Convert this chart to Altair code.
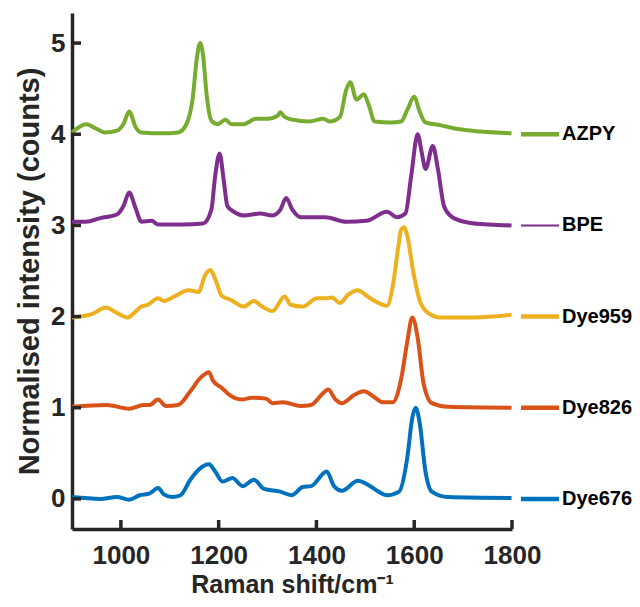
import altair as alt
import pandas as pd

# ---- data ----
series_names = ["AZPY", "BPE", "Dye959", "Dye826", "Dye676"]
series_colors = ["#77AC30", "#7E2F8E", "#EDB120", "#D95319", "#0072BD"]
legend_base = [4, 3, 2, 1, 0]
legend_width = [4.5, 2, 4.5, 4.5, 4.5]

azpy_x = [900, 929, 950, 967, 992, 1005, 1017, 1030, 1042, 1084, 1117, 1134, 1147, 1155, 1162,
          1168, 1176, 1185, 1197, 1214, 1226, 1251, 1276, 1301, 1320, 1326, 1335, 1351, 1385, 1414,
          1427, 1448, 1461, 1469, 1482, 1497, 1507, 1519, 1552, 1573, 1586, 1600, 1611, 1623, 1653,
          1686, 1736, 1799]
azpy_y = [4.02, 4.11, 4.06, 4.02, 4.04, 4.11, 4.25, 4.08, 4.02, 4.01, 4.02, 4.11, 4.40, 4.82, 5.00,
          4.87, 4.40, 4.15, 4.11, 4.16, 4.11, 4.11, 4.17, 4.17, 4.20, 4.24, 4.19, 4.16, 4.14, 4.17,
          4.14, 4.19, 4.49, 4.57, 4.38, 4.44, 4.32, 4.14, 4.13, 4.14, 4.27, 4.41, 4.25, 4.13, 4.10,
          4.06, 4.03, 4.01]

bpe_x = [900, 929, 958, 992, 1005, 1017, 1030, 1042, 1063, 1076, 1126, 1168, 1185, 1193, 1202,
         1210, 1218, 1231, 1251, 1285, 1310, 1326, 1338, 1351, 1368, 1418, 1461, 1502, 1544, 1565,
         1582, 1594, 1607, 1615, 1623, 1638, 1649, 1661, 1678, 1712, 1753, 1799]
bpe_y = [3.04, 3.04, 3.08, 3.12, 3.21, 3.36, 3.19, 3.04, 3.05, 3.01, 3.01, 3.02, 3.17, 3.55, 3.79,
         3.51, 3.21, 3.15, 3.11, 3.13, 3.11, 3.17, 3.30, 3.17, 3.09, 3.09, 3.04, 3.05, 3.15, 3.09,
         3.13, 3.55, 4.00, 3.81, 3.62, 3.87, 3.60, 3.21, 3.09, 3.03, 3.01, 3.00]

dye959_x = [900, 942, 969, 992, 1015, 1025, 1042, 1055, 1076, 1088, 1109, 1138, 1159, 1172, 1183,
            1193, 1206, 1226, 1251, 1272, 1289, 1310, 1335, 1347, 1372, 1401, 1418, 1431, 1448, 1465,
            1485, 1502, 1523, 1544, 1556, 1567, 1573, 1579, 1586, 1598, 1611, 1628, 1653, 1712, 1799]
dye959_y = [1.99, 2.03, 2.10, 2.04, 1.99, 2.03, 2.11, 2.13, 2.20, 2.17, 2.22, 2.29, 2.27, 2.45, 2.51,
            2.41, 2.23, 2.18, 2.11, 2.17, 2.11, 2.06, 2.22, 2.13, 2.11, 2.20, 2.20, 2.21, 2.15, 2.24,
            2.29, 2.23, 2.16, 2.12, 2.33, 2.75, 2.95, 2.98, 2.88, 2.49, 2.18, 2.04, 1.99, 1.99, 2.02]

dye826_x = [900, 971, 1017, 1046, 1059, 1076, 1092, 1117, 1142, 1163, 1180, 1188, 1206, 1222, 1247,
            1268, 1297, 1310, 1331, 1368, 1389, 1410, 1424, 1439, 1452, 1477, 1497, 1515, 1536, 1556,
            1573, 1586, 1596, 1607, 1619, 1636, 1669, 1799]
dye826_y = [1.01, 1.03, 0.99, 1.03, 1.03, 1.09, 1.02, 1.03, 1.18, 1.33, 1.39, 1.30, 1.22, 1.14, 1.09,
            1.11, 1.10, 1.05, 1.06, 1.02, 1.03, 1.14, 1.20, 1.09, 1.05, 1.14, 1.18, 1.13, 1.06, 1.06,
            1.31, 1.73, 1.99, 1.77, 1.27, 1.05, 1.01, 1.00]

dye676_x = [900, 958, 992, 1017, 1038, 1059, 1076, 1088, 1105, 1122, 1142, 1159, 1180, 1193, 1208,
            1228, 1249, 1272, 1293, 1326, 1349, 1372, 1389, 1421, 1436, 1452, 1485, 1507, 1527, 1544,
            1569, 1586, 1596, 1603, 1611, 1623, 1636, 1669, 1799]
dye676_y = [0.02, 0.00, 0.02, -0.01, 0.04, 0.06, 0.12, 0.05, 0.02, 0.04, 0.21, 0.32, 0.38, 0.30, 0.19,
            0.23, 0.14, 0.21, 0.11, 0.08, 0.04, 0.13, 0.14, 0.30, 0.14, 0.09, 0.20, 0.15, 0.08, 0.04,
            0.08, 0.46, 0.89, 1.00, 0.84, 0.30, 0.08, 0.02, 0.01]

x_ticks = [1000, 1200, 1400, 1600, 1800]
y_ticks = [0, 1, 2, 3, 4, 5]

# ---- build tables ----
all_x = [azpy_x, bpe_x, dye959_x, dye826_x, dye676_x]
all_y = [azpy_y, bpe_y, dye959_y, dye826_y, dye676_y]
rows = []
for name, xs, ys in zip(series_names, all_x, all_y):
    for xv, yv in zip(xs, ys):
        rows.append({"series": name, "shift": xv, "intensity": yv})
spectra = pd.DataFrame(rows)
legend_df = pd.DataFrame({"series": series_names, "base": legend_base, "lw": legend_width})
xt_df = pd.DataFrame({"shift": x_ticks})
yt_df = pd.DataFrame({"intensity": y_ticks})

W, H = 440, 516
FONT = "Liberation Sans"
AX = "#262626"

xscale = alt.Scale(domain=[900, 1800], nice=False, zero=False)
yscale = alt.Scale(domain=[-0.33, 5.33], nice=False, zero=False)
cscale = alt.Scale(domain=series_names, range=series_colors)
xaxis = alt.Axis(title="Raman shift/cm⁻¹", values=x_ticks, format="d", labelFlush=False,
                 labelPadding=13, titlePadding=4, titleFontSize=25)
yaxis = alt.Axis(title="Normalised intensity (counts)", values=y_ticks, format="d",
                 labelFlush=False, labelPadding=7, titlePadding=6, titleFontSize=29)

X = lambda f: alt.X(f, scale=xscale, axis=xaxis)
Y = lambda f: alt.Y(f, scale=yscale, axis=yaxis)

lines = alt.Chart(spectra).mark_line(strokeWidth=4, interpolate="monotone").encode(
    x=X("shift:Q"),
    y=Y("intensity:Q"),
    color=alt.Color("series:N", scale=cscale, legend=None),
    detail="series:N",
)

xticks_layer = alt.Chart(xt_df).mark_rule(color=AX, strokeWidth=3.5).encode(
    x=X("shift:Q"),
    y=alt.value(H),
    y2=alt.value(H - 9),
)
yticks_layer = alt.Chart(yt_df).mark_rule(color=AX, strokeWidth=3.5).encode(
    y=Y("intensity:Q"),
    x=alt.value(0),
    x2=alt.value(9),
)

leg_rules = alt.Chart(legend_df).mark_rule().encode(
    y=Y("base:Q"),
    x=alt.value(449),
    x2=alt.value(487),
    color=alt.Color("series:N", scale=cscale, legend=None),
    strokeWidth=alt.StrokeWidth("lw:Q", scale=None),
)
leg_text = alt.Chart(legend_df).mark_text(
    align="left", baseline="middle", font=FONT, fontWeight="bold", fontSize=20, color="#000000"
).encode(
    y=Y("base:Q"),
    x=alt.value(490),
    text="series:N",
)

chart = alt.layer(lines, xticks_layer, yticks_layer, leg_rules, leg_text).properties(
    width=W, height=H,
    autosize=alt.AutoSizeParams(type="none"),
    padding={"left": 64, "top": 5, "right": 120, "bottom": 70},
).configure_view(strokeWidth=0).configure_axis(
    grid=False, ticks=False, tickSize=0,
    domainColor=AX, domainWidth=3.5,
    labelFont=FONT, labelFontWeight="bold", labelFontSize=26, labelColor=AX,
    titleFont=FONT, titleFontWeight="bold", titleColor=AX,
)

chart.save("out.html", embed_options={"renderer": "svg", "actions": False})
